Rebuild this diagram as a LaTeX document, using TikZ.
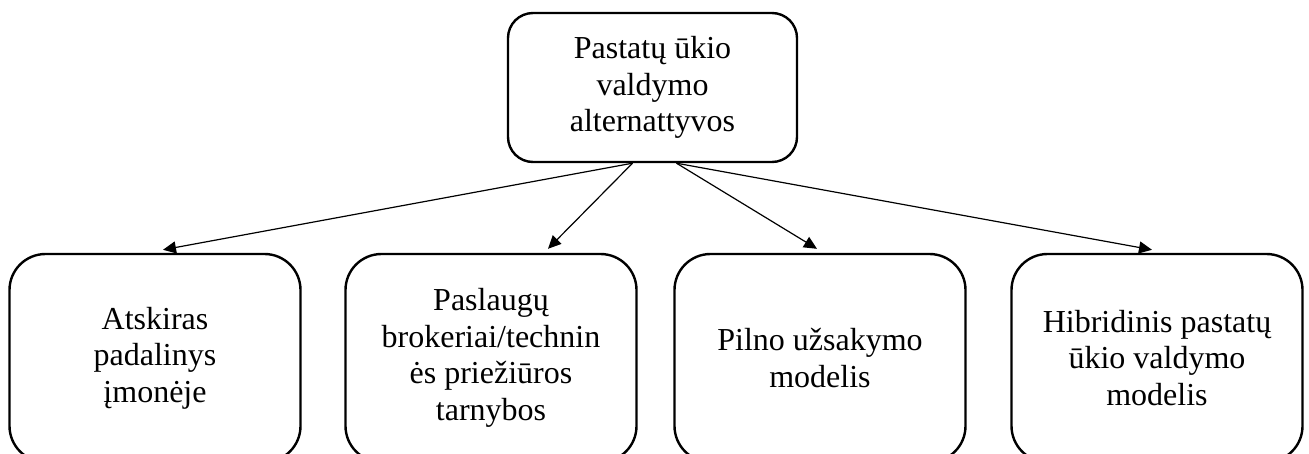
\documentclass[tikz,border=0pt]{standalone}
\usepackage{fontspec}
\setmainfont{Liberation Serif}
\usetikzlibrary{arrows.meta}
\begin{document}
\begin{tikzpicture}[x=1pt,y=-1pt,
  card/.style={draw, line width=2.4pt, align=center, inner sep=0pt,
    font=\fontsize{32}{36.5}\selectfont},
  headcard/.style={card, rounded corners=25pt, minimum width=289pt, minimum height=149pt},
  altcard/.style={card, rounded corners=36pt, minimum width=291pt, minimum height=208pt},
  link/.style={line width=1.2pt, -{Triangle[length=13pt,width=12pt]}}]
\useasboundingbox (0,0) rectangle (1309,453);
\clip (0,0) rectangle (1309,453);

% root of the hierarchy
\node[headcard] (top) at (652.5,87.5) {Pastatų ūkio\\valdymo\\alternattyvos};

% the four alternatives (their lower edges run past the page)
\node[altcard] (b1) at (155,358) {Atskiras\\padalinys\\įmonėje};
\node[altcard] (b2) at (491,358) {Paslaugų\\brokeriai/technin\\ės priežiūros\\tarnybos};
\node[altcard] (b3) at (820,358) {Pilno užsakymo\\modelis};
\node[altcard] (b4) at (1157,358) {Hibridinis pastatų\\ūkio valdymo\\modelis};

% connectors
\draw[link] ([xshift=-20pt]top.south) -- ([xshift=8pt,yshift=3pt]b1.north);
\draw[link] ([xshift=-20pt]top.south) -- ([xshift=57pt,yshift=4pt]b2.north);
\draw[link] ([xshift=24pt]top.south) -- ([xshift=-3pt,yshift=4pt]b3.north);
\draw[link] ([xshift=24pt]top.south) -- ([xshift=-5pt,yshift=3pt]b4.north);
\end{tikzpicture}
\end{document}
